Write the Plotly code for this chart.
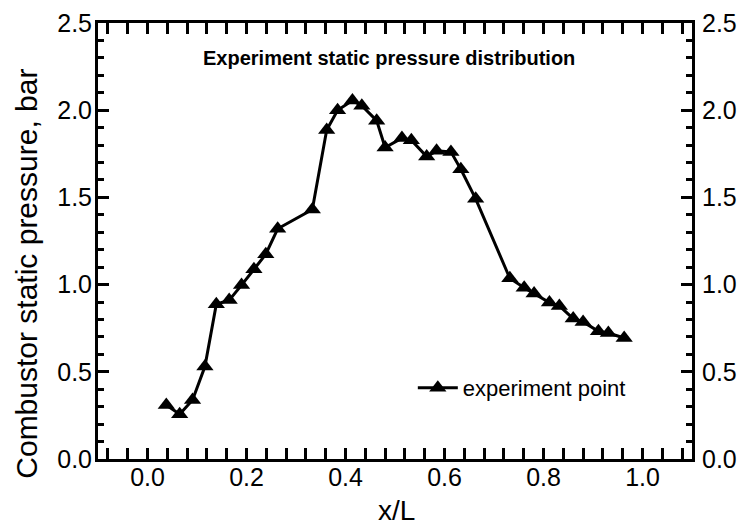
import plotly.graph_objects as go

x_over_L = [0.038, 0.065, 0.091, 0.116, 0.139, 0.165, 0.190, 0.215, 0.239, 0.263,
            0.333, 0.362, 0.384, 0.414, 0.433, 0.463, 0.480, 0.514, 0.533, 0.564,
            0.584, 0.613, 0.633, 0.663, 0.732, 0.761, 0.781, 0.812, 0.832, 0.860,
            0.880, 0.911, 0.931, 0.963]
pressure = [0.309, 0.257, 0.338, 0.530, 0.888, 0.911, 0.997, 1.088, 1.174, 1.320,
            1.430, 1.886, 2.000, 2.055, 2.026, 1.940, 1.786, 1.840, 1.828, 1.734,
            1.767, 1.761, 1.661, 1.492, 1.036, 0.982, 0.949, 0.897, 0.878, 0.805,
            0.786, 0.732, 0.722, 0.694]

series_name = "experiment point"
title_text = "Experiment static pressure distribution"
x_title = "x/L"
y_title = "Combustor static pressure, bar"

FONT = "Liberation Sans, Arial, sans-serif"

fig = go.Figure()
fig.add_trace(go.Scatter(
    x=x_over_L, y=pressure, mode="lines+markers", name=series_name,
    line=dict(color="black", width=3),
    marker=dict(symbol="triangle-up", size=15, color="black"),
))
# invisible trace to activate the right-hand axis
fig.add_trace(go.Scatter(
    x=x_over_L, y=pressure, yaxis="y2", mode="markers",
    marker=dict(opacity=0), showlegend=False, hoverinfo="skip",
))

axis_common = dict(
    showline=True, linecolor="black", linewidth=3,
    ticks="inside", ticklen=11, tickwidth=3, tickcolor="black",
    showgrid=False, zeroline=False, automargin=False,
    tickfont=dict(family=FONT, size=25, color="black"),
)

fig.update_layout(
    width=744, height=527,
    margin=dict(l=98, r=52, t=23, b=68),
    plot_bgcolor="white", paper_bgcolor="white",
    font=dict(family=FONT, color="black"),
    xaxis=dict(
        **axis_common, range=[-0.1, 1.1], dtick=0.2, tick0=0, tickformat=".1f",
        mirror="allticks", ticklabelstandoff=-6,
        minor=dict(ticks="inside", dtick=0.04, ticklen=6, tickwidth=3, tickcolor="black"),
    ),
    yaxis=dict(
        **axis_common, range=[0, 2.5], dtick=0.5, tickformat=".1f", mirror=True,
        ticklabelstandoff=-2,
        minor=dict(ticks="inside", dtick=0.1, ticklen=6, tickwidth=3, tickcolor="black"),
    ),
    yaxis2=dict(
        **axis_common, range=[0, 2.5], dtick=0.5, tickformat=".1f",
        overlaying="y", side="right", ticklabelstandoff=2,
        minor=dict(ticks="inside", dtick=0.1, ticklen=6, tickwidth=3, tickcolor="black"),
    ),
    legend=dict(
        x=0.53, y=0.163, xanchor="left", yanchor="middle",
        bgcolor="rgba(0,0,0,0)", font=dict(family=FONT, size=22, color="black"),
        itemwidth=40,
    ),
    showlegend=True,
    annotations=[
        dict(
            text=title_text, xref="paper", yref="paper", x=0.49, y=0.92,
            xanchor="center", yanchor="middle", showarrow=False,
            font=dict(family=FONT, size=20, color="black", weight="bold"),
        ),
        dict(
            text=y_title, xref="paper", yref="paper", x=-0.1195, y=0.425,
            xanchor="center", yanchor="middle", showarrow=False, textangle=-90,
            font=dict(family=FONT, size=30, color="black"),
        ),
        dict(
            text=x_title, xref="paper", yref="paper", x=0.502, y=-0.119,
            xanchor="center", yanchor="middle", showarrow=False,
            font=dict(family=FONT, size=28, color="black"),
        ),
    ],
)

fig.write_html("out.html")
